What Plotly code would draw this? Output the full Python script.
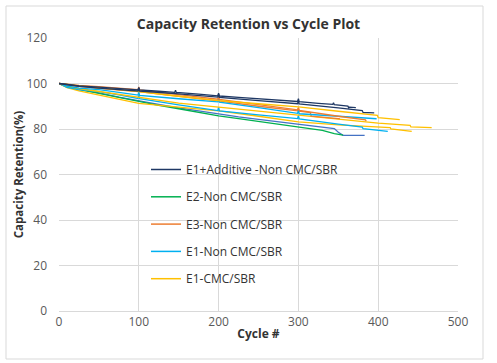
import plotly.graph_objects as go

# ---------------- data ----------------
series_names = ["E1+Additive -Non CMC/SBR", "E2-Non CMC/SBR", "E3-Non CMC/SBR",
                "E1-Non CMC/SBR", "E1-CMC/SBR"]

# E1+Additive (navy)
add_a_x = [0, 10, 25, 50, 75, 99, 100, 101, 125, 145, 146, 147, 175, 199, 200, 201, 225, 250, 275, 299, 300, 301, 325, 343, 344, 345, 362, 363, 364, 372]
add_a_y = [100, 99.5, 99.0, 98.4, 97.8, 97.2, 98.3, 97.2, 96.6, 96.1, 97.0, 96.1, 95.3, 94.6, 95.8, 94.5, 93.9, 93.3, 92.7, 92.1, 93.3, 92.0, 91.3, 90.8, 91.5, 90.7, 90.1, 89.3, 89.6, 89.4]
add_b_x = [0, 10, 25, 50, 75, 99, 100, 101, 150, 199, 200, 201, 250, 299, 300, 301, 350, 380, 381, 395]
add_b_y = [100, 99.4, 98.8, 98.0, 97.4, 96.7, 97.8, 96.7, 95.4, 94.0, 95.2, 93.9, 92.5, 91.1, 92.4, 91.0, 89.3, 88.1, 87.3, 87.1]

# extra cell drawn in steel blue
steel_x = [0, 10, 25, 50, 75, 100, 125, 150, 175, 200, 225, 250, 275, 300, 325, 345, 350, 356, 383]
steel_y = [100, 98.6, 97.3, 95.9, 94.0, 92.3, 90.8, 89.3, 87.9, 86.5, 85.3, 84.2, 83.1, 82.0, 81.0, 80.2, 78.6, 77.2, 77.2]

# E2 (green)
e2_x = [0, 10, 25, 50, 75, 100, 125, 150, 175, 200, 225, 250, 275, 300, 330, 345, 356]
e2_y = [100, 98.5, 97.4, 95.6, 93.8, 92.0, 90.4, 88.9, 87.3, 85.8, 84.6, 83.4, 82.2, 81.1, 79.4, 78.0, 77.3]

# E3 (orange)
e3_a_x = [0, 10, 25, 50, 75, 99, 100, 101, 150, 199, 200, 201, 250, 299, 300, 301, 350, 384, 385]
e3_a_y = [100, 99.6, 99.2, 98.6, 97.9, 97.3, 98.5, 97.2, 95.1, 93.1, 94.4, 93.0, 90.7, 88.4, 89.5, 88.2, 85.6, 84.0, 83.5]
e3_b_x = [0, 10, 25, 50, 75, 100, 150, 200, 250, 299, 300, 301, 315, 316, 350, 352]
e3_b_y = [100, 99.4, 98.8, 97.9, 97.2, 96.4, 94.4, 92.4, 90.0, 88.0, 89.2, 87.8, 87.2, 85.6, 84.6, 84.4]

# E1-Non (cyan)
e1n_a_x = [0, 10, 25, 50, 75, 99, 100, 101, 150, 199, 200, 201, 250, 299, 300, 301, 350, 398]
e1n_a_y = [100, 98.9, 98.0, 97.3, 96.1, 94.9, 96.3, 94.8, 93.3, 91.9, 93.2, 91.8, 89.4, 86.9, 88.3, 86.7, 85.6, 84.5]
e1n_b_x = [0, 10, 25, 50, 75, 99, 100, 101, 150, 199, 200, 201, 250, 299, 300, 301, 350, 380, 381, 412]
e1n_b_y = [100, 98.3, 97.3, 96.4, 95.0, 93.4, 94.8, 93.3, 90.6, 88.1, 89.6, 88.0, 86.2, 84.6, 86.0, 84.4, 82.1, 80.8, 80.2, 79.0]

# E1-CMC (gold)
cmc_a_x = [0, 10, 25, 50, 75, 100, 150, 200, 250, 300, 350, 399, 400, 427]
cmc_a_y = [100, 99.5, 99.0, 98.1, 97.3, 96.4, 94.4, 92.5, 91.1, 89.7, 87.8, 86.0, 85.0, 84.1]
cmc_b_x = [0, 10, 25, 50, 75, 100, 150, 200, 250, 300, 350, 400, 440, 441, 467]
cmc_b_y = [100, 98.8, 97.8, 96.5, 95.1, 93.8, 91.4, 89.6, 87.8, 86.3, 84.3, 82.6, 81.6, 80.9, 80.6]
cmc_c_x = [0, 10, 25, 50, 75, 100, 150, 200, 250, 300, 350, 400, 415, 416, 442]
cmc_c_y = [100, 98.2, 96.8, 95.0, 93.0, 91.3, 89.6, 88.0, 85.6, 83.1, 81.8, 80.9, 80.6, 80.0, 79.0]

x_ticks = [0, 100, 200, 300, 400, 500]
y_ticks = [0, 20, 40, 60, 80, 100, 120]

# ---------------- styling ----------------
NAVY = "#1F3864"
STEEL = "#4472C4"
GREEN = "#00B050"
ORANGE = "#ED7D31"
CYAN = "#00B0F0"
GOLD = "#FFC000"

lines = [
    (steel_x, steel_y, STEEL),
    (e2_x, e2_y, GREEN),
    (cmc_c_x, cmc_c_y, GOLD),
    (e1n_b_x, e1n_b_y, CYAN),
    (cmc_b_x, cmc_b_y, GOLD),
    (e3_b_x, e3_b_y, ORANGE),
    (e1n_a_x, e1n_a_y, CYAN),
    (e3_a_x, e3_a_y, ORANGE),
    (cmc_a_x, cmc_a_y, GOLD),
    (add_b_x, add_b_y, NAVY),
    (add_a_x, add_a_y, NAVY),
]

fig = go.Figure()
for xs, ys, col in lines:
    fig.add_trace(go.Scatter(x=xs, y=ys, mode="lines", line=dict(color=col, width=1.3),
                             showlegend=False, hoverinfo="skip"))

legend_colors = [NAVY, GREEN, ORANGE, CYAN, GOLD]
for name, col in zip(series_names, legend_colors):
    fig.add_trace(go.Scatter(x=[None], y=[None], mode="lines", name=name,
                             line=dict(color=col, width=1.5), legendgroup=name))

W, H = 497, 363
L, R, T, B = 59, 39, 38, 52
pw, ph = W - L - R, H - T - B

def px_to_paper_x(p):
    return (p - L) / pw

def px_to_paper_y(p):
    return (H - B - p) / ph

FONT = "Open Sans"
fig.update_layout(
    width=W, height=H,
    margin=dict(l=L, r=R, t=T, b=B, autoexpand=False),
    paper_bgcolor="white", plot_bgcolor="white",
    font=dict(family=FONT, color="#595959", size=12),
    title=dict(text="<b>Capacity Retention vs Cycle Plot</b>", x=0.5, xanchor="center",
               y=1 - 24 / H, yanchor="middle",
               font=dict(family=FONT, size=14, color="#333333")),
    xaxis=dict(range=[0, 500], tickvals=x_ticks, showgrid=True, gridcolor="#D9D9D9",
               gridwidth=1, zeroline=False, showline=True, linecolor="#D9D9D9",
               ticks="", tickfont=dict(size=12, color="#595959"), automargin=False,
               title=dict(text="<b>Cycle #</b>", font=dict(size=12, color="#333333"), standoff=0)),
    yaxis=dict(range=[0, 120], tickvals=y_ticks, showgrid=True, gridcolor="#D9D9D9",
               gridwidth=1, zeroline=False, showline=False, automargin=False,
               ticks="", tickfont=dict(size=12, color="#595959"), ticklabelstandoff=11,
               title=dict(text="<b>Capacity Retention(%)</b>", font=dict(size=11.5, color="#333333"), standoff=0)),
    legend=dict(x=px_to_paper_x(146), y=px_to_paper_y(155), xanchor="left", yanchor="top",
                bgcolor="rgba(0,0,0,0)", font=dict(size=12, color="#333333"),
                tracegroupgap=8.3, itemwidth=30),
    shapes=[dict(type="rect", xref="paper", yref="paper",
                 x0=px_to_paper_x(6), x1=px_to_paper_x(483),
                 y0=px_to_paper_y(359), y1=px_to_paper_y(6),
                 line=dict(color="#D9D9D9", width=1), layer="below")],
)

fig.write_html("out.html", config={"displayModeBar": False},
               post_script="document.body.style.margin='0px';")
